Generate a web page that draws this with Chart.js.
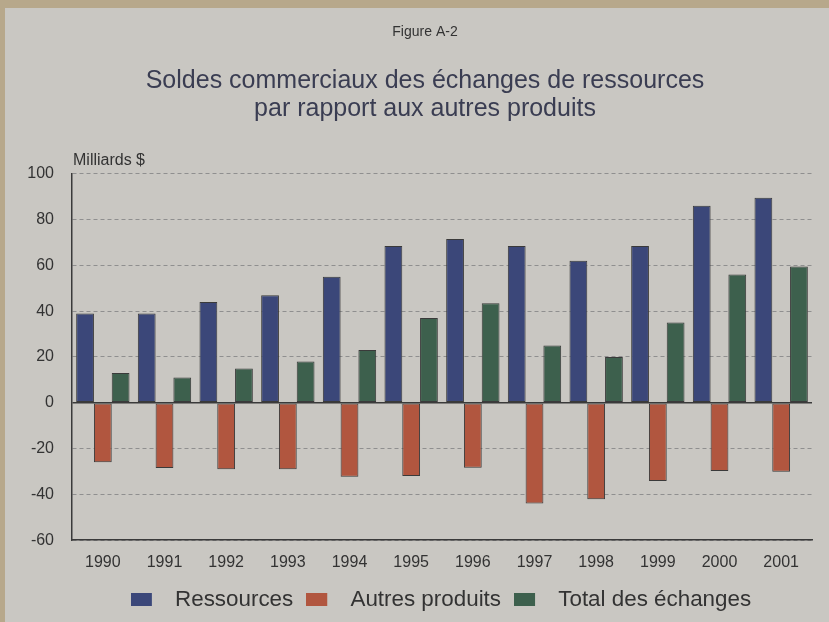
<!DOCTYPE html>
<html>
<head>
<meta charset="utf-8">
<script src="https://cdn.jsdelivr.net/npm/chart.js@4.4.1/dist/chart.umd.min.js"></script>
<style>
  html, body { margin: 0; padding: 0; background: #c8c6c1; overflow: hidden; }
  #c { display: block; }
</style>
</head>
<body>
<canvas id="c" width="829" height="622"></canvas>
<script>
const years = ['1990','1991','1992','1993','1994','1995','1996','1997','1998','1999','2000','2001'];
const ressources = [39, 39, 44, 47, 55, 68.5, 71.5, 68.5, 62, 68.5, 86, 89.5];
const autresProduits = [-26, -28.5, -29, -29, -32.3, -32, -28.4, -44, -42.2, -34.2, -29.8, -30.1];
const totalEchanges = [13, 11, 15, 18, 23, 37, 43.5, 25, 20, 35, 56, 59.5];
const seriesLabels = ['Ressources', 'Autres produits', 'Total des échanges'];
const yTicks = [-60, -40, -20, 0, 20, 40, 60, 80, 100];

const FONT = "'Liberation Sans', Arial, sans-serif";
const colors = ['#3b4779', '#b1563f', '#3d604d'];
const edge = '#3a3a3a';

function makeSwatch(color) {
  const cv = document.createElement('canvas');
  cv.width = 33; cv.height = 13;
  const g = cv.getContext('2d');
  g.fillStyle = color;
  g.fillRect(0, 0, 21, 13);
  return cv;
}
const swatches = colors.map(makeSwatch);

const bgPlugin = {
  id: 'bg',
  afterLayout(chart) {
    chart.boxes.forEach(b => {
      if (b.position === 'top') { b.left += 19; b.right += 19; }
      if (b === chart.legend) { b.left -= 1; b.right -= 1; }
    });
  },
  beforeDraw(chart) {
    const ctx = chart.ctx;
    ctx.save();
    ctx.fillStyle = '#b7a88b';
    ctx.fillRect(0, 0, chart.width, chart.height);
    ctx.fillStyle = '#c9c7c2';
    ctx.fillRect(5, 8, chart.width - 5, chart.height - 8);
    ctx.restore();
  },
  afterDraw(chart) {
    const ctx = chart.ctx;
    ctx.save();
    ctx.fillStyle = '#333333';
    ctx.font = '16px ' + FONT;
    ctx.textAlign = 'left';
    ctx.textBaseline = 'middle';
    ctx.fillText('Milliards $', chart.chartArea.left + 1, 161);
    ctx.restore();
  }
};

new Chart(document.getElementById('c'), {
  type: 'bar',
  data: {
    labels: years,
    datasets: [
      { label: seriesLabels[0], data: ressources, backgroundColor: colors[0] },
      { label: seriesLabels[1], data: autresProduits, backgroundColor: colors[1] },
      { label: seriesLabels[2], data: totalEchanges, backgroundColor: colors[2] }
    ]
  },
  options: {
    responsive: false,
    animation: false,
    devicePixelRatio: 1,
    datasets: {
      bar: {
        categoryPercentage: 0.865,
        barPercentage: 1,
        borderColor: edge,
        borderWidth: 1,
        borderSkipped: false
      }
    },
    layout: { padding: { left: 0, right: 17, top: 0, bottom: 1 } },
    scales: {
      x: {
        grid: { display: false, drawTicks: false },
        border: { display: true, color: edge, width: 1.5 },
        ticks: { color: '#333333', font: { family: FONT, size: 16 }, padding: 13 },
        afterFit(scale) { scale.height = 35.5; }
      },
      y: {
        min: -60, max: 100,
        afterBuildTicks(scale) { scale.ticks = yTicks.map(v => ({ value: v })); },
        grid: {
          drawTicks: false,
          color: (c) => (c.tick && c.tick.value === 0) ? edge : '#8f8f8f',
          lineWidth: (c) => (c.tick && c.tick.value === 0) ? 1.5 : 1
        },
        border: {
          display: true, color: edge, width: 1.5,
          dash: (c) => (c.type === 'tick' && c.tick && c.tick.value !== 0) ? [4, 3] : []
        },
        ticks: { color: '#333333', font: { family: FONT, size: 16 }, padding: 18 },
        afterFit(scale) { scale.width = 72; }
      }
    },
    plugins: {
      title: {
        display: true,
        text: 'Figure A-2',
        color: '#333333',
        font: { family: FONT, size: 14, weight: 'normal', lineHeight: 1.2 },
        padding: { top: 24, bottom: 0 }
      },
      subtitle: {
        display: true,
        text: ['Soldes commerciaux des échanges de ressources', 'par rapport aux autres produits'],
        color: '#3a3d52',
        font: { family: FONT, size: 25, weight: 'normal', lineHeight: 1.12 },
        padding: { top: 26, bottom: 51 }
      },
      legend: {
        position: 'bottom',
        fullSize: false,
        labels: {
          color: '#333333',
          font: { family: FONT, size: 22.4 },
          usePointStyle: true,
          pointStyleWidth: 33,
          boxWidth: 33,
          boxHeight: 13,
          padding: 13,
          generateLabels: (chart) => chart.data.datasets.map((ds, i) => ({
            text: ds.label,
            fillStyle: colors[i],
            strokeStyle: colors[i],
            lineWidth: 0,
            pointStyle: swatches[i],
            hidden: !chart.isDatasetVisible(i),
            datasetIndex: i,
            fontColor: '#333333'
          }))
        }
      },
      tooltip: { enabled: false }
    }
  },
  plugins: [bgPlugin]
});
</script>
</body>
</html>
